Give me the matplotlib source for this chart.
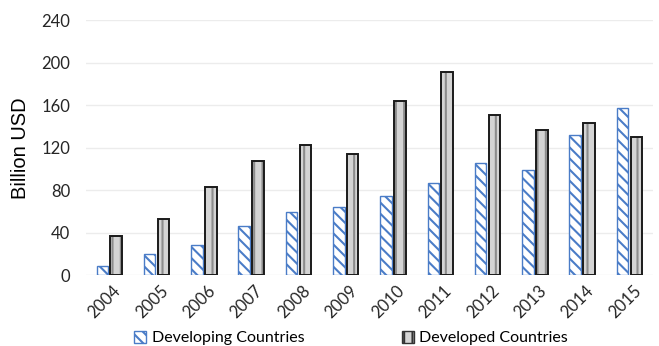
import matplotlib.pyplot as plt
import numpy as np
from matplotlib.patches import Patch

plt.rcParams['hatch.linewidth'] = 1.5

years = ["2004", "2005", "2006", "2007", "2008", "2009",
         "2010", "2011", "2012", "2013", "2014", "2015"]
developing = [9, 20, 29, 46, 60, 64, 75, 87, 106, 99, 132, 157]
developed = [37, 53, 83, 108, 123, 114, 164, 191, 151, 137, 143, 130]
yticks = [0, 40, 80, 120, 160, 200, 240]

blue = "#4a7cc7"
x = np.arange(len(years))
w = 0.245
off = 0.147

fig = plt.figure(figsize=(6.59, 3.46), dpi=100)
ax = fig.add_axes([0.13, 0.204, 0.861, 0.738])

# developing: white with blue diagonal stripes
ax.bar(x - off, developing, w, color="white", edgecolor=blue,
       hatch="\\\\\\", linewidth=1.0, zorder=3)

# developed: grey fill with vertical stripes, black outline
ax.bar(x + off, developed, w, color="#d4d4d4", edgecolor="#8c8c8c",
       hatch="||", linewidth=0, zorder=3)
ax.bar(x + off, developed, w, fill=False, edgecolor="#1a1a1a",
       linewidth=1.4, zorder=4)

handles = [
    Patch(facecolor="white", edgecolor=blue, hatch="\\\\\\", label="Developing Countries"),
    Patch(facecolor="#d4d4d4", edgecolor="#333333", hatch="||", label="Developed Countries"),
]

ax.set_xlim(-0.5, len(years) - 0.5)
ax.set_ylim(0, 240)
ax.set_yticks(yticks)
ax.set_xticks(x + 0.07)
ax.set_xticklabels(years, rotation=45, ha="right", rotation_mode="anchor",
                   fontsize=12, family="Lato", color="#262626")
for lab in ax.get_yticklabels():
    lab.set_family("Lato")
    lab.set_fontsize(12)
    lab.set_color("#262626")
ax.tick_params(length=0, pad=5)
ax.tick_params(axis="y", pad=11)
ax.grid(axis="y", color="#ececec", linewidth=1.0, zorder=0)
for s in ax.spines.values():
    s.set_visible(False)

ax.set_ylabel("Billion USD", family="Liberation Sans", fontsize=14.5, labelpad=8)

fig.legend(handles=handles, loc="lower center", ncol=2, frameon=False,
           bbox_to_anchor=(0.533, -0.04), columnspacing=6.1, handlelength=0.75,
           handleheight=0.75, handletextpad=0.35, prop={"family": "Lato", "size": 11.5})

fig.savefig("out.png", dpi=100)
